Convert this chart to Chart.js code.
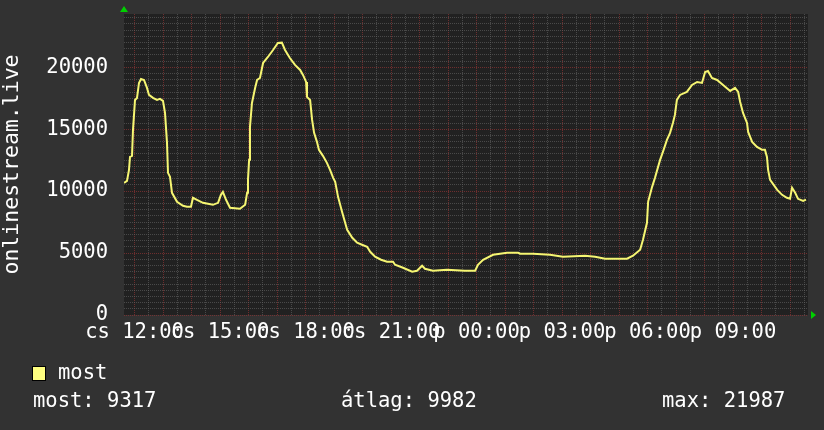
<!DOCTYPE html>
<html>
<head>
<meta charset="utf-8">
<script src="https://cdn.jsdelivr.net/npm/chart.js@4/dist/chart.umd.min.js"></script>
<style>
  html, body { margin: 0; padding: 0; background: #323232; }
  #wrap { width: 824px; height: 430px; }
</style>
</head>
<body>
<div id="wrap"><canvas id="graph" width="824" height="430"></canvas></div>
<script>
// time in hours since midnight of the first day (24 = next midnight)
const hours = [
  11.63, 11.735, 11.805, 11.841, 11.911, 11.946, 12.016, 12.086, 12.156, 12.226,
  12.332, 12.437, 12.507, 12.648, 12.788, 12.893, 12.998, 13.069, 13.139, 13.174,
  13.244, 13.314, 13.49, 13.70, 13.84, 13.98, 14.05, 14.19, 14.40, 14.75,
  14.93, 15.03, 15.10, 15.21, 15.35, 15.70, 15.88, 15.95, 15.98, 16.02,
  16.05, 16.12, 16.23, 16.30, 16.40, 16.51, 16.68, 16.86, 17.03, 17.17,
  17.28, 17.45, 17.63, 17.81, 17.91, 18.02, 18.05, 18.16, 18.23, 18.30,
  18.40, 18.47, 18.61, 18.75, 18.86, 18.97, 19.04, 19.14, 19.29, 19.46,
  19.64, 19.81, 19.98, 20.16, 20.27, 20.44, 20.65, 20.86, 21.07, 21.14,
  21.42, 21.74, 21.91, 22.09, 22.19, 22.47, 22.96, 23.59, 23.95, 24.05,
  24.23, 24.58, 25.07, 25.46, 25.53, 25.98, 26.58, 27.03, 27.81, 28.16,
  28.51, 29.28, 29.49, 29.74, 29.84, 29.98, 30.02, 30.16, 30.26, 30.44,
  30.54, 30.68, 30.79, 30.89, 30.96, 31.03, 31.14, 31.38, 31.56, 31.74,
  31.91, 32.02, 32.12, 32.26, 32.44, 32.65, 32.90, 33.07, 33.18, 33.25,
  33.35, 33.49, 33.53, 33.67, 33.84, 34.02, 34.12, 34.19, 34.23, 34.30,
  34.55, 34.72, 34.89, 35.00, 35.07, 35.18, 35.28, 35.46, 35.56
];
const viewers = [
  10670, 10830, 11718, 12766, 12847, 14944, 17363, 17525, 18734, 19057,
  18976, 18331, 17767, 17525, 17363, 17444, 17283, 16315, 13896, 11477,
  11154, 9864, 9137, 8815, 8734, 8734, 9460, 9299, 9057, 8895,
  9057, 9702, 9944, 9299, 8653, 8573, 8895, 9864, 10912, 12524,
  15185, 17121, 18331, 18976, 19137, 20347, 20831, 21395, 21960, 21987,
  21395, 20750, 20186, 19782, 19379, 18815, 17605, 17363, 15750, 14702,
  13976, 13331, 12847, 12282, 11718, 11073, 10751, 9541, 8250, 6879,
  6234, 5831, 5670, 5508, 5105, 4702, 4460, 4299, 4299, 4057,
  3815, 3492, 3573, 3976, 3734, 3573, 3653, 3573, 3573, 4057,
  4460, 4863, 5024, 5024, 4944, 4944, 4863, 4702, 4782, 4702,
  4540, 4540, 4782, 5266, 6073, 7444, 9137, 10347, 11073, 12524,
  13170, 14138, 14702, 15508, 16153, 17363, 17767, 18008, 18573, 18815,
  18734, 19621, 19702, 19137, 18976, 18573, 18089, 18331, 18008, 17202,
  16315, 15508, 14782, 13976, 13573, 13331, 13331, 12766, 11718, 10912,
  10105, 9702, 9460, 9379, 10266, 9863, 9379, 9218, 9317
];

const timeStart = 11.63;
const timeEnd = 35.63;
const tickHours = [12, 15, 18, 21, 24, 27, 30, 33];
const tickLabels = ['cs 12:00', 'cs 15:00', 'cs 18:00', 'cs 21:00', 'p 00:00', 'p 03:00', 'p 06:00', 'p 09:00'];
const yMax = 24300;
const yMinorStep = 500;
const yLabelStep = 5000;

const seriesName = 'most';
const axisTitle = 'onlinestream.live';
const statLabels = ['most:', 'átlag:', 'max:'];
const statValues = [9317, 9982, 21987];

const FONT = "'DejaVu Sans Mono', monospace";
const FSIZE = 20.5;
const LINE_COLOR = '#f6f672';
const MAJOR = 'rgba(130, 50, 50, 0.8)';
const MINOR = 'rgba(100, 100, 100, 0.6)';

const rrdLook = {
  id: 'rrdLook',
  beforeDraw(chart) {
    const { ctx, chartArea: a } = chart;
    ctx.save();
    ctx.fillStyle = '#323232';
    ctx.fillRect(0, 0, chart.width, chart.height);
    ctx.fillStyle = '#212121';
    ctx.fillRect(a.left, a.top, a.right - a.left, a.bottom - a.top);
    ctx.restore();
  },
  afterDraw(chart) {
    const { ctx, chartArea: a } = chart;
    ctx.save();
    // axis arrows
    ctx.fillStyle = '#00d000';
    ctx.beginPath();
    ctx.moveTo(a.left - 4, a.top - 2);
    ctx.lineTo(a.left + 4, a.top - 2);
    ctx.lineTo(a.left, a.top - 8);
    ctx.fill();
    ctx.beginPath();
    ctx.moveTo(a.right + 3, a.bottom - 4);
    ctx.lineTo(a.right + 3, a.bottom + 4);
    ctx.lineTo(a.right + 8, a.bottom);
    ctx.fill();

    // legend
    ctx.fillStyle = '#ffff80';
    ctx.fillRect(32, 366, 14, 15);
    ctx.strokeStyle = '#000';
    ctx.lineWidth = 1;
    ctx.strokeRect(32.5, 366.5, 13, 14);
    ctx.fillStyle = '#ffffff';
    ctx.font = FSIZE + 'px ' + FONT;
    ctx.textBaseline = 'middle';
    ctx.textAlign = 'left';
    ctx.fillText(seriesName, 58, 374);

    const statX = [33, 341, 662];
    statLabels.forEach((lab, i) => {
      ctx.fillText(lab + ' ' + statValues[i], statX[i], 402);
    });
    ctx.restore();
  }
};

const ctx = document.getElementById('graph').getContext('2d');
new Chart(ctx, {
  type: 'line',
  data: {
    datasets: [{
      label: seriesName,
      data: hours.map((h, i) => ({ x: h, y: viewers[i] })),
      borderColor: LINE_COLOR,
      borderWidth: 2,
      pointRadius: 0,
      tension: 0,
      fill: false
    }]
  },
  options: {
    responsive: false,
    animation: false,
    layout: { padding: { left: 0, right: 16, top: 14, bottom: 0 } },
    plugins: {
      legend: { display: false },
      tooltip: { enabled: false }
    },
    scales: {
      x: {
        type: 'linear',
        min: timeStart,
        max: timeEnd,
        afterBuildTicks(scale) {
          const t = [];
          const first = Math.ceil(timeStart * 2);
          for (let k = first; k / 2 <= timeEnd; k++) t.push({ value: k / 2 });
          scale.ticks = t;
        },
        afterFit(scale) {
          scale.height = 115;
          scale.paddingLeft = 0;
          scale.paddingRight = 0;
        },
        ticks: {
          autoSkip: false,
          maxRotation: 0,
          padding: 5,
          color: '#ffffff',
          font: { family: FONT, size: FSIZE },
          callback(v) {
            const i = tickHours.indexOf(v);
            return i >= 0 ? tickLabels[i] : '';
          }
        },
        grid: {
          drawTicks: false,
          color: c => (c.tick && Number.isInteger(c.tick.value) ? MAJOR : MINOR),
          lineWidth: 1
        },
        border: { display: false, dash: [1, 1] }
      },
      y: {
        min: 0,
        max: yMax,
        afterBuildTicks(scale) {
          const t = [];
          for (let v = 0; v <= yMax; v += yMinorStep) t.push({ value: v });
          scale.ticks = t;
        },
        afterFit(scale) {
          scale.width = 124;
          scale.paddingTop = 0;
          scale.paddingBottom = 0;
        },
        ticks: {
          autoSkip: false,
          padding: 16,
          color: '#ffffff',
          font: { family: FONT, size: FSIZE },
          callback: v => (v % yLabelStep === 0 ? String(v) : '')
        },
        title: {
          display: true,
          text: axisTitle,
          color: '#ffffff',
          font: { family: FONT, size: 21.5 },
          padding: 0
        },
        grid: {
          drawTicks: false,
          color: c => (c.tick && c.tick.value % yLabelStep === 0 ? MAJOR : MINOR),
          lineWidth: 1
        },
        border: { display: false, dash: [1, 1] }
      }
    }
  },
  plugins: [rrdLook]
});
</script>
</body>
</html>
